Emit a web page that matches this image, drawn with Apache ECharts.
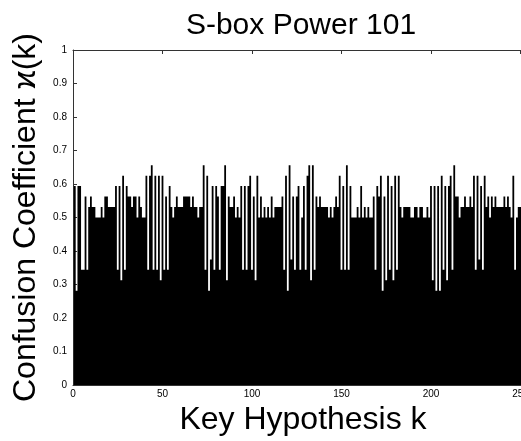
<!DOCTYPE html>
<html>
<head>
<meta charset="utf-8">
<script src="https://cdn.jsdelivr.net/npm/echarts@6/dist/echarts.min.js"></script>
<style>
html,body{margin:0;padding:0;background:#fff;overflow:hidden;width:521px;height:441px;}
#chart{width:560px;height:441px;}
</style>
</head>
<body>
<div id="chart"></div>
<script>
const titleText = 'S-box Power 101';
const xTitle = 'Key Hypothesis k';
const yTitle = 'Confusion Coefficient \u03f0(k)';
const xTicks = [0, 50, 100, 150, 200, 250];
const yTicks = [0, 0.1, 0.2, 0.3, 0.4, 0.5, 0.6, 0.7, 0.8, 0.9, 1];
// confusion coefficient for key hypotheses k = 0..255 (bars drawn at k+1)
const kappa = [
.594,.281,.594,.594,.344,.344,.563,.344,.531,.563,.531,.531,.5,.5,.5,.531,
.5,.563,.563,.531,.531,.531,.531,.594,.344,.594,.313,.625,.344,.594,.563,.563,
.531,.563,.563,.5,.563,.531,.5,.5,.625,.344,.625,.656,.344,.625,.344,.625,
.313,.625,.344,.563,.344,.594,.531,.5,.531,.563,.531,.531,.531,.563,.563,.563,
.563,.531,.563,.531,.531,.5,.531,.531,.656,.344,.625,.281,.375,.594,.344,.594,
.563,.344,.594,.594,.656,.313,.563,.531,.531,.563,.5,.531,.5,.594,.344,.594,
.344,.594,.625,.344,.563,.313,.625,.5,.563,.5,.531,.5,.531,.5,.563,.5,
.531,.531,.531,.531,.563,.344,.625,.281,.656,.375,.563,.344,.563,.594,.344,.5,
.594,.344,.625,.656,.313,.656,.344,.563,.531,.563,.531,.531,.531,.531,.5,.531,
.5,.531,.563,.531,.625,.344,.594,.344,.656,.344,.594,.5,.5,.5,.531,.5,
.594,.5,.531,.5,.531,.5,.5,.563,.344,.594,.563,.625,.281,.563,.313,.625,
.344,.594,.313,.625,.344,.625,.531,.5,.531,.531,.531,.531,.5,.5,.531,.531,
.5,.531,.531,.5,.5,.531,.5,.594,.313,.594,.281,.594,.281,.625,.344,.594,
.313,.594,.625,.344,.656,.563,.563,.5,.531,.531,.563,.531,.531,.563,.531,.625,
.344,.625,.375,.594,.344,.625,.531,.563,.5,.563,.531,.563,.531,.531,.531,.531,
.563,.531,.563,.531,.5,.625,.344,.5,.531,.531,.531,.5,.594,.344,.563,.531
];
const keys = kappa.map((v, i) => i + 1);

const chart = echarts.init(document.getElementById('chart'), null, {renderer: 'canvas'});
const axisColor = '#333';
const font = 'Liberation Sans, Arial, sans-serif';
const lbl = {fontFamily: font, fontSize: 10, color: '#000'};
chart.setOption({
  animation: false,
  backgroundColor: '#fff',
  title: {
    text: titleText,
    left: 296, top: 6, textAlign: 'center',
    textStyle: {fontFamily: font, fontSize: 30, fontWeight: 'normal', color: '#000'}
  },
  grid: {left: 73, right: 27, top: 50, bottom: 55, containLabel: false},
  xAxis: [{
    type: 'value', min: 0, max: 257, interval: 50,
    name: xTitle, nameLocation: 'middle', nameGap: 19,
    nameTextStyle: {fontFamily: font, fontSize: 32, color: '#000'},
    axisLine: {show: true, lineStyle: {color: axisColor, width: 1}},
    axisTick: {show: true, inside: true, length: 4, lineStyle: {color: axisColor}},
    axisLabel: Object.assign({margin: 4, showMaxLabel: false, formatter: v => (xTicks.includes(v) ? String(v) : '')}, lbl),
    splitLine: {show: false}
  }, {
    type: 'value', min: 0, max: 257, interval: 50, position: 'top',
    axisLine: {show: true, lineStyle: {color: axisColor, width: 1}},
    axisTick: {show: true, inside: true, length: 4, lineStyle: {color: axisColor}},
    axisLabel: {show: false}, splitLine: {show: false}
  }],
  yAxis: {
    type: 'value', min: 0, max: 1, interval: 0.1,
    name: yTitle, nameLocation: 'middle', nameGap: 25, nameRotate: 90,
    nameTextStyle: {fontFamily: 'Liberation Sans, DejaVu Sans, sans-serif', fontSize: 32, color: '#000'},
    axisLine: {show: true, lineStyle: {color: axisColor, width: 1}},
    axisTick: {show: true, inside: true, length: 4, lineStyle: {color: axisColor}},
    axisLabel: Object.assign({margin: 6, formatter: v => {
      const t = yTicks.find(y => Math.abs(y - v) < 1e-6);
      return t === undefined ? '' : String(t);
    }}, lbl),
    splitLine: {show: false}
  },
  series: [{
    // all bars (unit width, centred on each key) are filled as one seamless outline,
    // every corner placed through the axes' own coordinate mapping
    type: 'custom',
    xAxisIndex: 0,
    clip: true,
    silent: true,
    encode: {x: 0, y: 1},
    data: [[keys[0], kappa[0]]],
    renderItem: function (params, api) {
      const pts = [api.coord([keys[0] - 0.5, 0])];
      keys.forEach((k, i) => {
        pts.push(api.coord([k - 0.5, kappa[i]]));
        pts.push(api.coord([k + 0.5, kappa[i]]));
      });
      pts.push(api.coord([keys[keys.length - 1] + 0.5, 0]));
      return {type: 'polygon', shape: {points: pts}, style: {fill: '#000'}};
    }
  }]
});
</script>
</body>
</html>
